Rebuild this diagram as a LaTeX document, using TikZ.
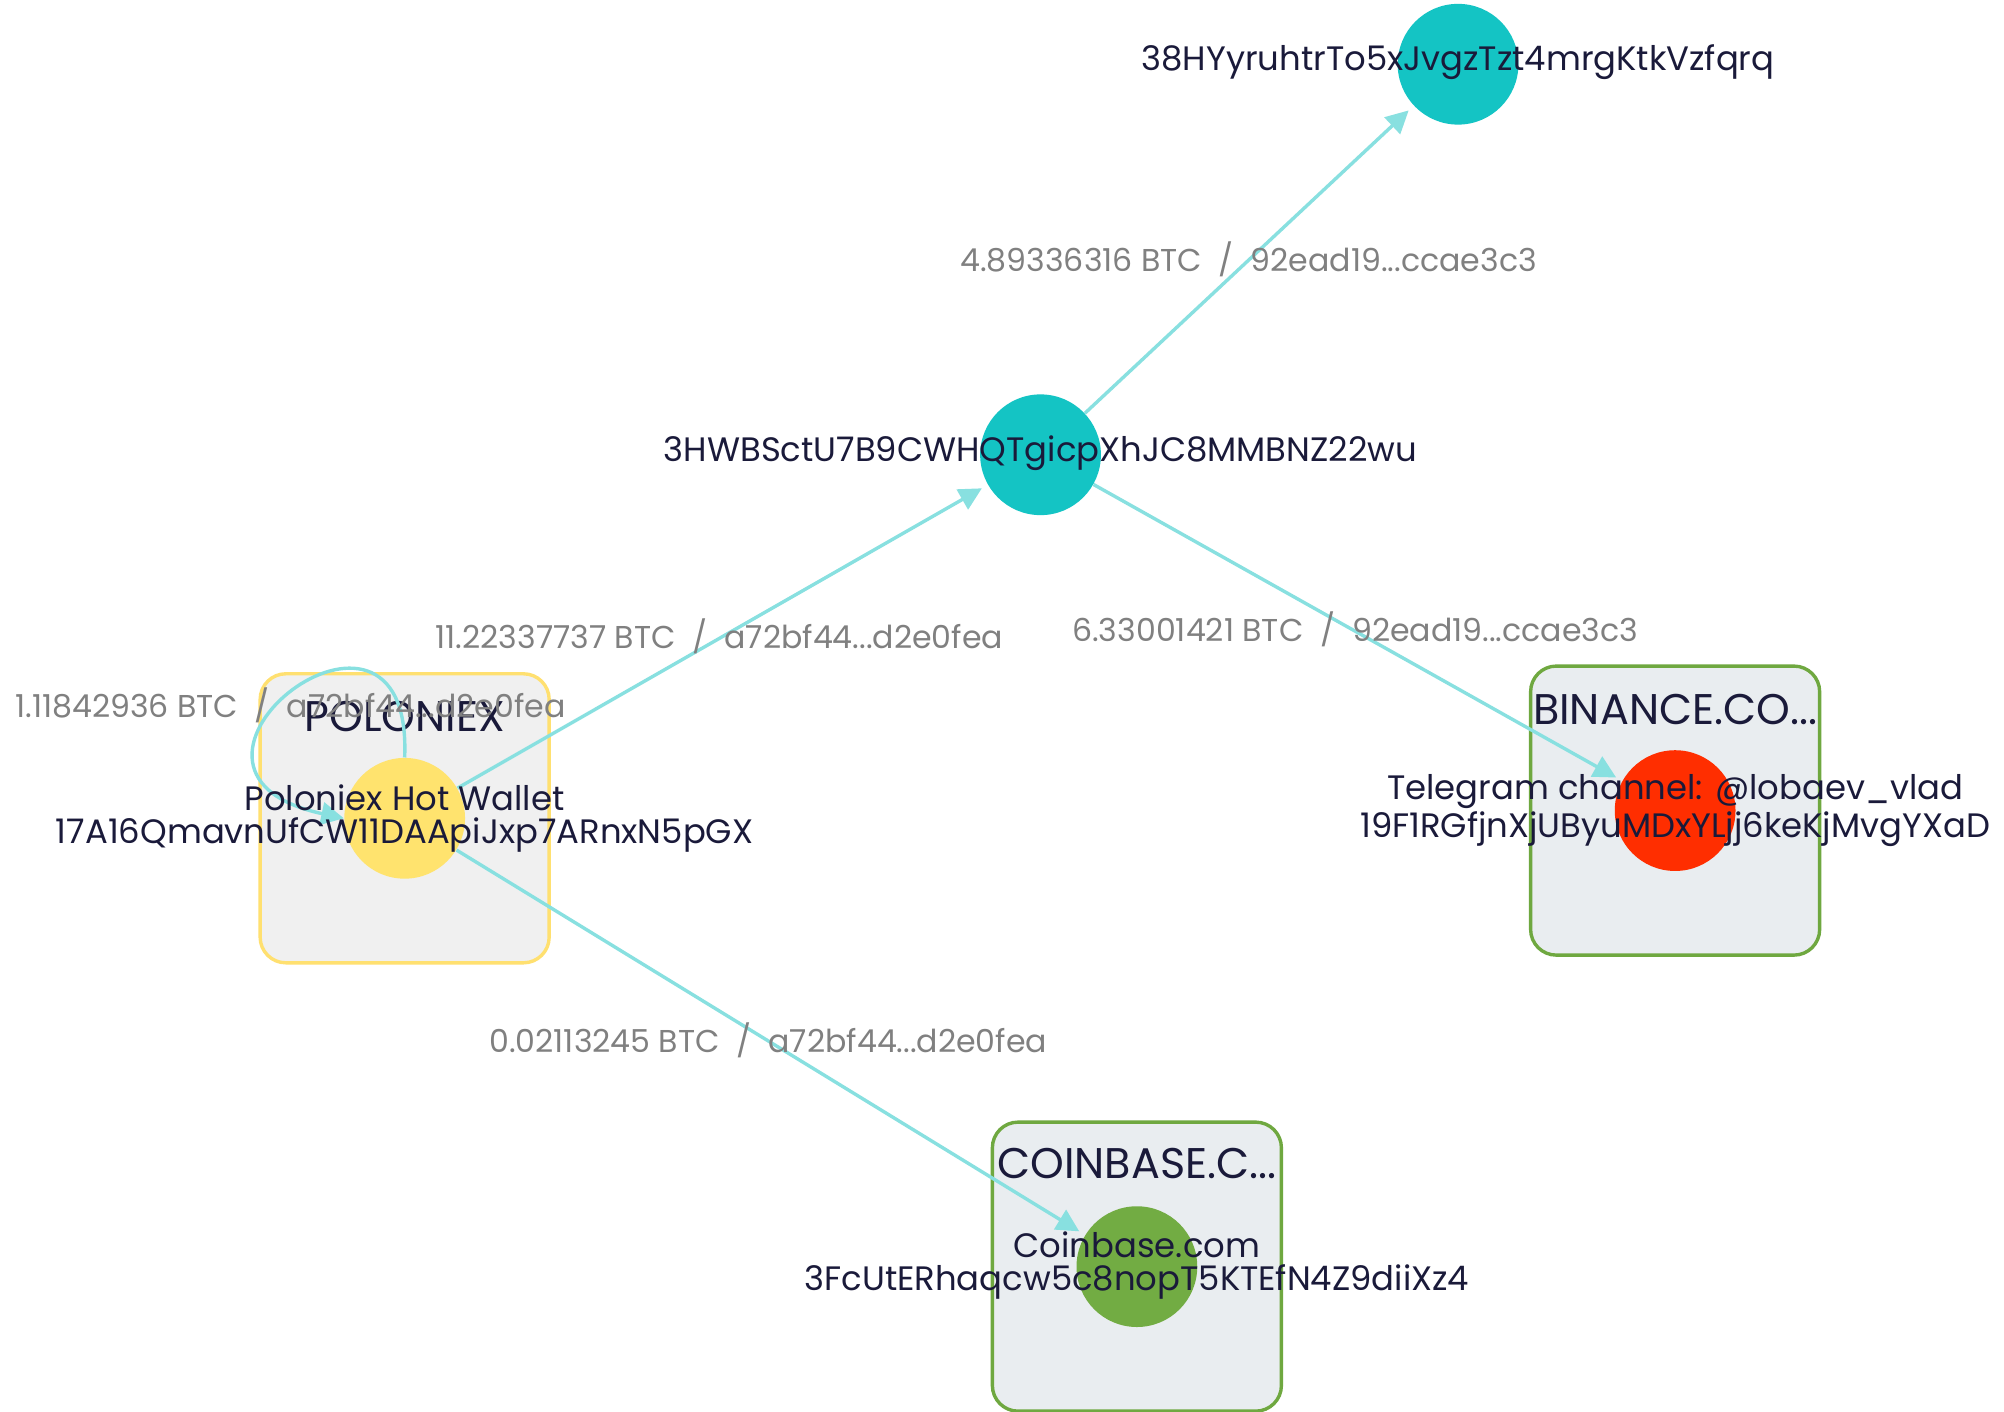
\documentclass[tikz,border=0pt]{standalone}
\usepackage{fontspec}
\setmainfont{Poppins}
\usetikzlibrary{arrows.meta}
\definecolor{txt}{HTML}{1A1A3A}
\definecolor{edge}{HTML}{88E0E0}
\definecolor{lbl}{HTML}{808080}
\tikzset{
 addr/.style={circle,minimum size=0.02cm*94,inner sep=0pt,draw=none},
 nlabel/.style={text=txt,font=\fontsize{15}{14.5}\selectfont,align=center,inner sep=0pt},
 elabel/.style={text=lbl,font=\fontsize{14}{15}\selectfont,inner sep=0pt},
 group/.style={rounded corners=0.4cm,line width=1.5pt,minimum width=0.02cm*225,minimum height=0.02cm*225},
 gtitle/.style={text=txt,font=\fontsize{19}{20}\selectfont,inner sep=0pt},
 flow/.style={draw=edge,line width=1.5pt,-{Triangle[length=10pt,width=10pt]}},
}
\begin{document}
\begin{tikzpicture}[x=0.02cm,y=-0.02cm]
\useasboundingbox[fill=white] (0,0) rectangle (1560,1099);
% groups
\node[group,draw={rgb,255:red,255;green,224;blue,112},fill={rgb,255:red,240;green,240;blue,240}] (gp) at (315,637) {};
\node[group,draw={rgb,255:red,111;green,168;blue,64},fill={rgb,255:red,233;green,237;blue,240}] (gb) at (1304,631) {};
\node[group,draw={rgb,255:red,111;green,168;blue,64},fill={rgb,255:red,233;green,237;blue,240}] (gc) at (885,986) {};
\node[gtitle] (tp) at (315,558) {POLONIEX};
\node[gtitle] (tb) at (1304,552) {BINANCE.CO...};
\node[gtitle] (tc) at (885,906) {COINBASE.C...};
% nodes
\node[addr,fill={rgb,255:red,20;green,196;blue,196}] (a38) at (1135,50) {};
\node[addr,fill={rgb,255:red,20;green,196;blue,196}] (a3h) at (810,354) {};
\node[addr,fill={rgb,255:red,255;green,227;blue,110}] (p) at (315,637) {};
\node[addr,fill={rgb,255:red,255;green,46;blue,0}] (b) at (1304,631) {};
\node[addr,fill={rgb,255:red,114;green,172;blue,67}] (c) at (885,986) {};
% edges
\draw[flow,shorten >=3pt] (p) -- (a3h);
\draw[flow,shorten >=3pt] (a3h) -- (a38);
\draw[flow,shorten >=3pt] (a3h) -- (b);
\draw[flow,shorten >=3pt] (p) -- (c);
\draw[flow] (p.north) .. controls (322,425) and (95,600) .. (p.west);
% labels
\node[nlabel] (l38) at (1135,48) {38HYyruhtrTo5xJvgzTzt4mrgKtkVzfqrq};
\node[nlabel] (l3h) at (810,353) {3HWBSctU7B9CWHQTgicpXhJC8MMBNZ22wu};
\node[nlabel] (lp) at (315,637) {Poloniex Hot Wallet\\17A16QmavnUfCW11DAApiJxp7ARnxN5pGX};
\node[nlabel] (lb) at (1304,631) {Telegram channel: @lobaev\_vlad\\19F1RGfjnXjUByuMDxYLjj6keKjMvgYXaD};
\node[nlabel] (lc) at (885,985) {Coinbase.com\\3FcUtERhaqcw5c8nopT5KTEfN4Z9diiXz4};
\node[elabel] (e1) at (560,495) {11.22337737 BTC \ / \ a72bf44...d2e0fea};
\node[elabel] (e2) at (972,202) {4.89336316 BTC \ / \ 92ead19...ccae3c3};
\node[elabel] (e3) at (1055,490) {6.33001421 BTC \ / \ 92ead19...ccae3c3};
\node[elabel] (e4) at (598,810) {0.02113245 BTC \ / \ a72bf44...d2e0fea};
\node[elabel] (e5) at (226,549) {1.11842936 BTC \ / \ a72bf44...d2e0fea};
\end{tikzpicture}
\end{document}
